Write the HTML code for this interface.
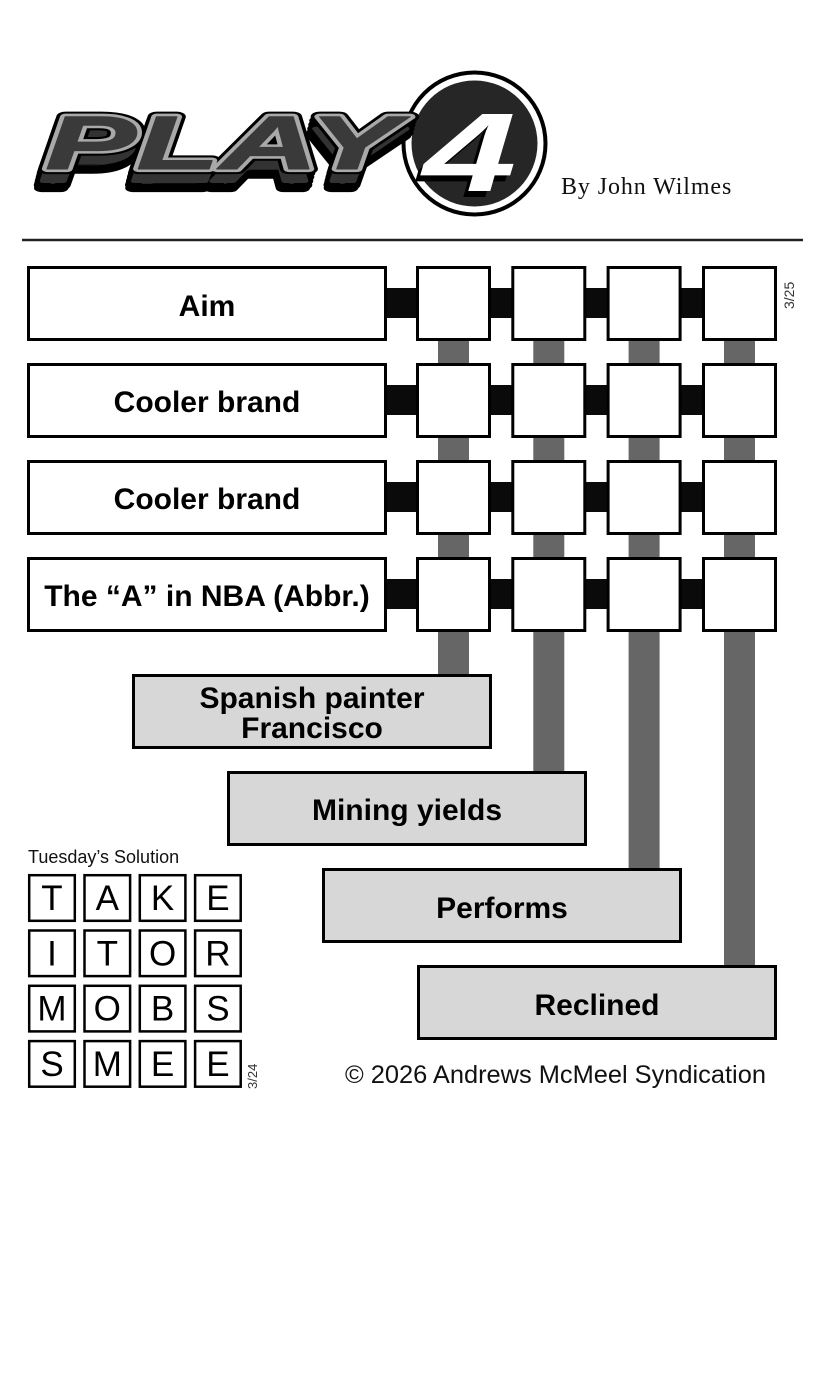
<!DOCTYPE html>
<html><head><meta charset="utf-8"><style>
html,body{margin:0;padding:0;background:#fff;}
svg{display:block;}
</style></head><body>
<svg width="813" height="1394" viewBox="0 0 813 1394" xmlns="http://www.w3.org/2000/svg">
<rect width="813" height="1394" fill="#fff"/>

<!-- Logo circle -->
<circle cx="474.5" cy="143.5" r="73" fill="#000"/>
<circle cx="474.5" cy="143.5" r="69" fill="#fff"/>
<circle cx="474.5" cy="143.5" r="63" fill="#262626"/>

<!-- PLAY shadow -->
<g font-family="Liberation Sans, Arial, sans-serif" font-weight="bold" font-style="italic" font-size="76" stroke-linejoin="round">
  <text transform="translate(43,173) scale(1.8,1)" fill="#2e2e2e" stroke="#000" stroke-width="14" vector-effect="non-scaling-stroke">PLAY</text>
  <text transform="translate(42,177) scale(1.8,1)" fill="#2e2e2e" stroke="#000" stroke-width="14" vector-effect="non-scaling-stroke">PLAY</text>
  <text transform="translate(41,181) scale(1.8,1)" fill="#2e2e2e" stroke="#000" stroke-width="14" vector-effect="non-scaling-stroke">PLAY</text>
  <text transform="translate(40,185) scale(1.8,1)" fill="#2e2e2e" stroke="#000" stroke-width="14" vector-effect="non-scaling-stroke">PLAY</text>
  <text transform="translate(39,188) scale(1.8,1)" fill="#2e2e2e" stroke="#000" stroke-width="12" vector-effect="non-scaling-stroke">PLAY</text>
  <text transform="translate(41,181) scale(1.8,1)" fill="#333" stroke="#333" stroke-width="6" vector-effect="non-scaling-stroke">PLAY</text>
  <!-- face -->
  <text transform="translate(45,169) scale(1.8,1)" fill="#000" stroke="#000" stroke-width="15" vector-effect="non-scaling-stroke">PLAY</text>
  <text transform="translate(45,169) scale(1.8,1)" fill="#3a3a3a" stroke="#a9a9a9" stroke-width="9" vector-effect="non-scaling-stroke">PLAY</text>
  <text transform="translate(45,169) scale(1.8,1)" fill="#3a3a3a" stroke="#3a3a3a" stroke-width="1.5" vector-effect="non-scaling-stroke">PLAY</text>
</g>

<!-- 4 -->
<g font-family="Liberation Sans, Arial, sans-serif" font-weight="bold" font-style="italic" font-size="112">
  <text transform="translate(418,197) scale(1.5,1)" fill="#000">4</text>
  <text transform="translate(423,191) scale(1.5,1)" fill="#fff">4</text>
</g>

<text x="561" y="194" font-family="Liberation Serif, Times New Roman, serif" font-size="24" letter-spacing="0.9" fill="#111">By John Wilmes</text>

<line x1="22" y1="240" x2="803" y2="240" stroke="#222" stroke-width="2.5"/>

<!-- gray vertical bars -->
<g fill="#666">
  <rect x="438" y="340" width="31" height="336"/>
  <rect x="533.3" y="340" width="31" height="433"/>
  <rect x="628.6" y="340" width="31" height="530"/>
  <rect x="724" y="340" width="31" height="627"/>
</g>

<!-- black connectors -->
<g fill="#0a0a0a">
  <rect x="385" y="288" width="392" height="30"/>
  <rect x="385" y="385" width="392" height="30"/>
  <rect x="385" y="482" width="392" height="30"/>
  <rect x="385" y="579" width="392" height="30"/>
</g>

<!-- clue boxes top -->
<g fill="#fff" stroke="#000" stroke-width="3">
  <rect x="28.5" y="267.5" width="357" height="72"/>
  <rect x="28.5" y="364.5" width="357" height="72"/>
  <rect x="28.5" y="461.5" width="357" height="72"/>
  <rect x="28.5" y="558.5" width="357" height="72"/>
</g>

<!-- squares -->
<g fill="#fff" stroke="#000" stroke-width="3">
  <rect x="417.5" y="267.5" width="72" height="72"/>
  <rect x="512.8" y="267.5" width="72" height="72"/>
  <rect x="608.1" y="267.5" width="72" height="72"/>
  <rect x="703.5" y="267.5" width="72" height="72"/>

  <rect x="417.5" y="364.5" width="72" height="72"/>
  <rect x="512.8" y="364.5" width="72" height="72"/>
  <rect x="608.1" y="364.5" width="72" height="72"/>
  <rect x="703.5" y="364.5" width="72" height="72"/>

  <rect x="417.5" y="461.5" width="72" height="72"/>
  <rect x="512.8" y="461.5" width="72" height="72"/>
  <rect x="608.1" y="461.5" width="72" height="72"/>
  <rect x="703.5" y="461.5" width="72" height="72"/>

  <rect x="417.5" y="558.5" width="72" height="72"/>
  <rect x="512.8" y="558.5" width="72" height="72"/>
  <rect x="608.1" y="558.5" width="72" height="72"/>
  <rect x="703.5" y="558.5" width="72" height="72"/>
</g>

<!-- bottom clue boxes -->
<g fill="#d7d7d7" stroke="#000" stroke-width="3">
  <rect x="133.5" y="675.5" width="357" height="72"/>
  <rect x="228.5" y="772.5" width="357" height="72"/>
  <rect x="323.5" y="869.5" width="357" height="72"/>
  <rect x="418.5" y="966.5" width="357" height="72"/>
</g>

<g font-family="Liberation Sans, Arial, sans-serif" font-weight="bold" font-size="30" fill="#000" text-anchor="middle">
  <text x="207" y="316">Aim</text>
  <text x="207" y="412">Cooler brand</text>
  <text x="207" y="509">Cooler brand</text>
  <text x="207" y="606">The “A” in NBA (Abbr.)</text>

  <text x="312" y="708">Spanish painter</text>
  <text x="312" y="738">Francisco</text>
  <text x="407" y="820">Mining yields</text>
  <text x="502" y="918">Performs</text>
  <text x="597" y="1015">Reclined</text>
</g>

<text transform="translate(794,309) rotate(-90)" font-family="Liberation Sans, Arial, sans-serif" font-size="14" fill="#333">3/25</text>

<!-- Tuesday's solution -->
<text x="28" y="863" font-family="Liberation Sans, Arial, sans-serif" font-size="18" fill="#111">Tuesday’s Solution</text>
<g fill="#fff" stroke="#000" stroke-width="2.5">
  <rect x="29.2" y="875.2" width="45.6" height="45.6"/>
  <rect x="84.5" y="875.2" width="45.6" height="45.6"/>
  <rect x="139.8" y="875.2" width="45.6" height="45.6"/>
  <rect x="195.1" y="875.2" width="45.6" height="45.6"/>

  <rect x="29.2" y="930.5" width="45.6" height="45.6"/>
  <rect x="84.5" y="930.5" width="45.6" height="45.6"/>
  <rect x="139.8" y="930.5" width="45.6" height="45.6"/>
  <rect x="195.1" y="930.5" width="45.6" height="45.6"/>

  <rect x="29.2" y="985.8" width="45.6" height="45.6"/>
  <rect x="84.5" y="985.8" width="45.6" height="45.6"/>
  <rect x="139.8" y="985.8" width="45.6" height="45.6"/>
  <rect x="195.1" y="985.8" width="45.6" height="45.6"/>

  <rect x="29.2" y="1041.1" width="45.6" height="45.6"/>
  <rect x="84.5" y="1041.1" width="45.6" height="45.6"/>
  <rect x="139.8" y="1041.1" width="45.6" height="45.6"/>
  <rect x="195.1" y="1041.1" width="45.6" height="45.6"/>
</g>
<g font-family="Liberation Sans, Arial, sans-serif" font-size="35" fill="#000" text-anchor="middle">
  <text x="52" y="910">T</text><text x="107.3" y="910">A</text><text x="162.6" y="910">K</text><text x="217.9" y="910">E</text>
  <text x="52" y="965.3">I</text><text x="107.3" y="965.3">T</text><text x="162.6" y="965.3">O</text><text x="217.9" y="965.3">R</text>
  <text x="52" y="1020.6">M</text><text x="107.3" y="1020.6">O</text><text x="162.6" y="1020.6">B</text><text x="217.9" y="1020.6">S</text>
  <text x="52" y="1075.9">S</text><text x="107.3" y="1075.9">M</text><text x="162.6" y="1075.9">E</text><text x="217.9" y="1075.9">E</text>
</g>
<text transform="translate(257,1089) rotate(-90)" font-family="Liberation Sans, Arial, sans-serif" font-size="13" fill="#333">3/24</text>

<text x="345" y="1083" font-family="Liberation Sans, Arial, sans-serif" font-size="25.4" fill="#111">© 2026 Andrews McMeel Syndication</text>
</svg>
</body></html>
